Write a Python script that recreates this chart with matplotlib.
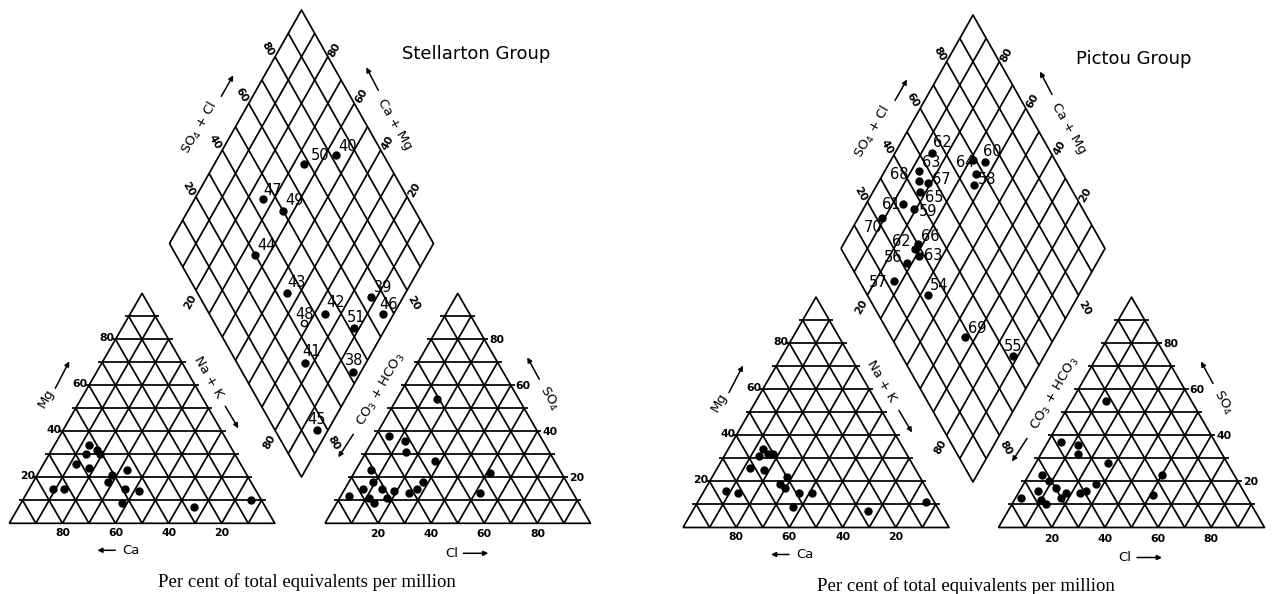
import numpy as np
import matplotlib
matplotlib.use("Agg")
import matplotlib.pyplot as plt

# ------------------------------------------------------------------
# Data (per cent of total equivalents per million)
# ------------------------------------------------------------------
group_names = ["Stellarton Group", "Pictou Group"]
caption_text = "Per cent of total equivalents per million"
tick_values = [20, 40, 60, 80]

# Stellarton Group - diamond field (sample number, Na+K, SO4+Cl)
stel_ids = ["50", "40", "47", "49", "44", "43", "39", "42", "46", "48", "51", "41", "38", "45"]
stel_nak = [34, 44, 26, 36, 35, 55, 88, 74, 96, 68, 88, 77, 97, 96]
stel_so4cl = [68, 82, 45, 50, 30, 34, 65, 44, 66, 34, 52, 26, 42, 16]
stel_open = ["48"]

# Stellarton Group - cation triangle (Mg, Na+K)
stel_cat_mg = [34, 32, 30, 30, 26, 24, 23, 21, 18, 15, 15, 15, 14, 9, 7, 10]
stel_cat_nak = [13, 17, 19, 14, 12, 18, 33, 28, 28, 9, 13, 36, 42, 38, 66, 86]

# Stellarton Group - anion triangle (SO4, Cl)
stel_an_so4 = [54, 38, 36, 31, 27, 23, 22, 18, 15, 15, 18, 15, 13, 14, 12, 11, 9, 11, 13]
stel_an_cl = [15, 5, 12, 15, 28, 6, 51, 9, 7, 14, 28, 27, 25, 19, 3, 11, 14, 18, 52]

# Pictou Group - diamond field (sample number, Na+K, SO4+Cl)
pict_ids = ["62", "60", "64", "", "58", "63", "68", "67", "65", "61", "59", "70",
            "66", "62", "63", "56", "57", "54", "69", "55"]
pict_nak = [14, 36, 31, 35, 37, 13, 15, 19, 18, 14, 19, 9, 28, 28, 31, 28, 27, 43, 66, 88]
pict_so4cl = [55, 73, 69, 67, 64, 46, 44, 47, 42, 33, 36, 22, 30, 28, 28, 22, 13, 23, 28, 42]
pict_open = []

# Pictou Group - cation triangle (Mg, Na+K)
pict_cat_mg = [34, 32, 32, 31, 26, 25, 22, 19, 17, 16, 15, 15, 15, 9, 7, 11]
pict_cat_nak = [13, 16, 18, 13, 12, 18, 28, 27, 30, 8, 13, 36, 41, 37, 66, 86]

# Pictou Group - anion triangle (SO4, Cl)
pict_an_so4 = [55, 37, 36, 32, 28, 23, 23, 20, 16, 17, 19, 16, 15, 15, 13, 12, 10, 13, 14]
pict_an_cl = [13, 5, 12, 14, 27, 5, 50, 9, 7, 13, 27, 25, 23, 18, 2, 10, 13, 17, 51]

# ------------------------------------------------------------------
# Layout (pixel units of the output image)
# ------------------------------------------------------------------
H = np.sqrt(3) / 2
panels = [
    dict(x0=9.3, y0=523.3, s=265.5, g=50.2, dcx=301.5, dtop=10.0, dbot=477.0, dhw=132.0,
         ids=stel_ids, nak=stel_nak, so4cl=stel_so4cl, open=stel_open,
         cmg=stel_cat_mg, cnak=stel_cat_nak, aso4=stel_an_so4, acl=stel_an_cl,
         title=group_names[0], cap_dx=5,
         lbl=[(7, -9), (2, -8), (0, -9), (2, -10), (2, -10), (0, -10), (2, -10),
              (1, -11), (-4, -9), (-9, -8), (-7, -10), (-3, -11), (-8, -11), (-10, -11)]),
    dict(x0=683.0, y0=527.5, s=266.0, g=49.5, dcx=973.0, dtop=15.0, dbot=482.0, dhw=132.0,
         ids=pict_ids, nak=pict_nak, so4cl=pict_so4cl, open=pict_open,
         cmg=pict_cat_mg, cnak=pict_cat_nak, aso4=pict_an_so4, acl=pict_an_cl,
         title=group_names[1], cap_dx=-7,
         lbl=[(1, -10), (-2, -11), (-17, 3), (0, 0), (3, -6), (3, -9), (-29, -6),
              (4, -4), (5, 5), (-21, 0), (5, 3), (-18, 9), (3, -7), (-23, -7),
              (5, 0), (-23, -5), (-25, 1), (2, -10), (3, -9), (-9, -9)]),
]

LW = 1.25
TICK_FS = 7.8
AX_FS = 9.5
NUM_FS = 10.5
SANS = ["DejaVu Sans"]

fig = plt.figure(figsize=(12.72, 5.94), dpi=100)
ax = fig.add_axes([0, 0, 1, 1])
ax.set_xlim(0, 1272)
ax.set_ylim(594, 0)
ax.axis("off")


def cat_xy(p, mg, nak):
    mg = np.asarray(mg, float) / 100
    nak = np.asarray(nak, float) / 100
    return p["x0"] + p["s"] * (nak + mg / 2), p["y0"] - p["s"] * H * mg


def an_xy(p, so4, cl):
    so4 = np.asarray(so4, float) / 100
    cl = np.asarray(cl, float) / 100
    ax0 = p["x0"] + p["s"] + p["g"]
    return ax0 + p["s"] * (cl + so4 / 2), p["y0"] - p["s"] * H * so4


def dia_xy(p, nak, sc):
    nak = np.asarray(nak, float) / 100
    sc = np.asarray(sc, float) / 100
    cy = (p["dtop"] + p["dbot"]) / 2
    lx, ly = p["dcx"] - p["dhw"], cy
    bx, by = p["dcx"] - lx, p["dbot"] - ly
    tx, ty = p["dcx"] - lx, p["dtop"] - ly
    return lx + nak * bx + sc * tx, ly + nak * by + sc * ty


def line(xs, ys):
    ax.plot(xs, ys, color="black", lw=LW, solid_capstyle="butt", zorder=2)


def arrow(p, start, end):
    ax.annotate("", xy=(p["x0"] + end[0], p["y0"] + end[1]),
                xytext=(p["x0"] + start[0], p["y0"] + start[1]),
                arrowprops=dict(arrowstyle="-|>", lw=1.1, color="black",
                                mutation_scale=7, shrinkA=0, shrinkB=0))


def label(p, pos, text, rot, fs=AX_FS):
    ax.text(p["x0"] + pos[0], p["y0"] + pos[1], text, rotation=rot,
            rotation_mode="anchor", ha="center", va="center",
            fontsize=fs, family=SANS)


def triangle(p, xy):
    # outline and 10 per cent grid of a trilinear field
    f = np.linspace(10, 90, 9)
    ov = 4
    bl = xy(p, 0, 0)
    br = xy(p, 0, 100)
    ap = xy(p, 100, 0)
    line([bl[0], br[0], ap[0], bl[0]], [bl[1], br[1], ap[1], bl[1]])
    for v in f:
        a = xy(p, v, 0)
        b = xy(p, v, 100 - v)
        line([a[0] - ov, b[0] + ov], [a[1], b[1]])
        a = xy(p, 0, v)
        b = xy(p, 100 - v, v)
        line([a[0], b[0]], [a[1], b[1]])
        a = xy(p, 0, 100 - v)
        b = xy(p, 100 - v, 0)
        line([a[0], b[0]], [a[1], b[1]])


def diamond(p):
    f = np.linspace(10, 90, 9)
    pts = [dia_xy(p, 0, 0), dia_xy(p, 0, 100), dia_xy(p, 100, 100), dia_xy(p, 100, 0), dia_xy(p, 0, 0)]
    line([q[0] for q in pts], [q[1] for q in pts])
    for v in f:
        a, b = dia_xy(p, v, 0), dia_xy(p, v, 100)
        line([a[0], b[0]], [a[1], b[1]])
        a, b = dia_xy(p, 0, v), dia_xy(p, 100, v)
        line([a[0], b[0]], [a[1], b[1]])


for p in panels:
    triangle(p, cat_xy)
    triangle(p, an_xy)
    diamond(p)

    # ---- tick labels: cation triangle ----
    for v in tick_values:
        x, y = cat_xy(p, 0, 100 - v)           # Ca = v on the base
        ax.text(x, y + 10, str(v), ha="center", va="center", fontsize=TICK_FS,
                fontweight="bold", family=SANS)
        x, y = cat_xy(p, v, 0)                 # Mg on the left edge
        ax.text(x - 1, y - 1, str(v), ha="right", va="center", fontsize=TICK_FS,
                fontweight="bold", family=SANS)
    # ---- tick labels: anion triangle ----
    for v in tick_values:
        x, y = an_xy(p, 0, v)                  # Cl on the base
        ax.text(x, y + 11, str(v), ha="center", va="center", fontsize=TICK_FS,
                fontweight="bold", family=SANS)
        x, y = an_xy(p, v, 100 - v)            # SO4 on the right edge
        ax.text(x + 5, y + 1, str(v), ha="left", va="center", fontsize=TICK_FS,
                fontweight="bold", family=SANS)
    # ---- tick labels: diamond ----
    for v in tick_values:
        x, y = dia_xy(p, 0, v)                 # SO4+Cl, upper-left edge
        ax.text(x - 7, y - 8, str(v), rotation=-60, ha="center", va="center",
                fontsize=TICK_FS, fontweight="bold", family=SANS)
        x, y = dia_xy(p, 100 - v, 100)         # Ca+Mg, upper-right edge
        ax.text(x + 7, y - 7, str(v), rotation=60, ha="center", va="center",
                fontsize=TICK_FS, fontweight="bold", family=SANS)
    for v in (20, 80):
        x, y = dia_xy(p, v, 0)                 # Na+K, lower-left edge
        ax.text(x - 6, y + 12, str(v), rotation=60, ha="center", va="center",
                fontsize=TICK_FS, fontweight="bold", family=SANS)
        x, y = dia_xy(p, 100, 100 - v)         # CO3+HCO3, lower-right edge
        ax.text(x + 6, y + 13, str(v), rotation=-60, ha="center", va="center",
                fontsize=TICK_FS, fontweight="bold", family=SANS)

    # ---- axis names and arrows ----
    label(p, (36.5, -125), "Mg", 60)
    arrow(p, (46, -135), (60, -162))
    label(p, (122, 27), "Ca", 0)
    arrow(p, (106, 27), (88, 27))
    label(p, (199, -146), "Na + K", -60)
    arrow(p, (216, -117), (229, -95))
    label(p, (372, -134), r"CO$_3$ + HCO$_3$", 60)
    arrow(p, (344, -89), (329, -66))
    label(p, (190, -396), r"SO$_4$ + Cl", 60)
    arrow(p, (212, -427), (224, -448))
    label(p, (386, -399), "Ca + Mg", -60)
    arrow(p, (369, -433), (357, -456))
    label(p, (540, -125), r"SO$_4$", -60)
    arrow(p, (530, -144), (518, -166))
    label(p, (442, 30), "Cl", 0)
    arrow(p, (454, 30), (479, 30))

    ax.text(p["x0"] + 393, p["y0"] - 469, p["title"], ha="left", va="center",
            fontsize=13, family=SANS)
    ax.text(p["dcx"] + p["cap_dx"], p["y0"] + 59, caption_text, ha="center", va="center",
            fontsize=13.5, family=["Liberation Serif", "DejaVu Serif"])

    # ---- samples ----
    x, y = cat_xy(p, p["cmg"], p["cnak"])
    ax.plot(x, y, "o", color="black", ms=5, zorder=4)
    x, y = an_xy(p, p["aso4"], p["acl"])
    ax.plot(x, y, "o", color="black", ms=5, zorder=4)
    x, y = dia_xy(p, p["nak"], p["so4cl"])
    for i, sid in enumerate(p["ids"]):
        hollow = sid in p["open"]
        ax.plot(x[i], y[i], "o", ms=5 if not hollow else 4.5,
                mfc="white" if hollow else "black", mec="black", mew=1.0, zorder=4)
        if sid:
            dx, dy = p["lbl"][i]
            ax.text(x[i] + dx, y[i] + dy, sid, ha="left", va="center",
                    fontsize=NUM_FS, family=SANS, zorder=5)

fig.savefig("out.png", dpi=100, facecolor="white")
